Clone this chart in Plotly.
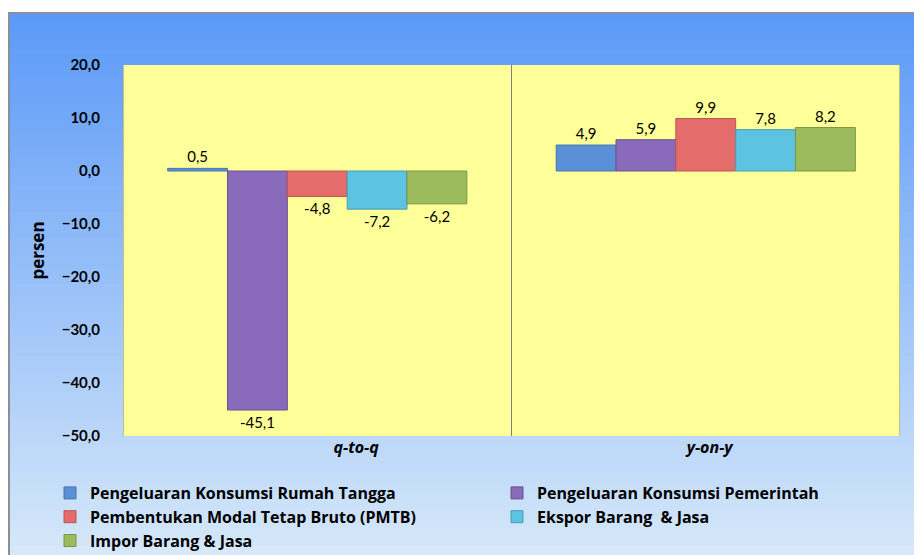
import plotly.graph_objs as go

categories = ["q-to-q", "y-on-y"]
series_names = [
    "Pengeluaran Konsumsi Rumah Tangga",
    "Pengeluaran Konsumsi Pemerintah",
    "Pembentukan Modal Tetap Bruto (PMTB)",
    "Ekspor Barang  & Jasa",
    "Impor Barang & Jasa",
]
rumah_tangga = [0.5, 4.9]
pemerintah = [-45.1, 5.9]
pmtb = [-4.8, 9.9]
ekspor = [-7.2, 7.8]
impor = [-6.2, 8.2]
values = [rumah_tangga, pemerintah, pmtb, ekspor, impor]
colors = ["#5b8fd8", "#8a6bbb", "#e46c6a", "#5cc3e0", "#9cbb5c"]
edges = ["#4a74ad", "#6a5190", "#b85654", "#4a9cb3", "#7a9646"]
legend_of = ["legend", "legend2", "legend", "legend2", "legend"]

# halaman punya margin 8px, jadi semua posisi digeser 8px
W, H = 914, 547
L, R, T, B = 115, 892, 57, 428


def px(x):
    return (x - L) / (R - L)


def py(y):
    return (B - y) / (B - T)


fig = go.Figure()
for i, (name, vals, c, e) in enumerate(zip(series_names, values, colors, edges)):
    fig.add_trace(go.Bar(
        x=[0, 1], y=vals, name=name,
        marker=dict(color=c, line=dict(color=e, width=1)),
        texttemplate="%{y:.1f}", textposition="outside",
        textfont=dict(family="Lato", size=15, color="black"),
        cliponaxis=False, legend=legend_of[i], legendgroup="g%d" % i,
    ))

# latar gradien biru
shapes = []
n = 60
top_c = (92, 154, 248)
bot_c = (214, 232, 250)
y0, y1 = 5, H
for i in range(n):
    t = i / (n - 1)
    col = tuple(int(top_c[k] + (bot_c[k] - top_c[k]) * t) for k in range(3))
    a = y0 + (y1 - y0) * i / n
    b = y0 + (y1 - y0) * (i + 1) / n + 1
    shapes.append(dict(type="rect", xref="paper", yref="paper", layer="below",
                       x0=px(0), x1=px(W), y0=py(a), y1=py(b),
                       fillcolor="rgb(%d,%d,%d)" % col, line=dict(width=0)))
shapes.append(dict(type="rect", xref="paper", yref="paper", layer="below",
                   x0=px(1), x1=px(W + 5), y0=py(5), y1=py(H + 5),
                   fillcolor="rgba(0,0,0,0)", line=dict(color="#8a8f99", width=2)))
shapes.append(dict(type="rect", xref="paper", yref="paper", layer="below",
                   x0=0, x1=1, y0=0, y1=1, fillcolor="#ffff99", line=dict(width=0)))
for xv in [-0.5, 0.5, 1.5]:
    shapes.append(dict(type="line", xref="x", yref="paper", x0=xv, x1=xv, y0=0, y1=1,
                       line=dict(color="#808080", width=1)))

leg_font = dict(family="Open Sans", size=16, color="black", weight="bold")
fig.update_layout(
    width=W, height=H,
    margin=dict(l=L, r=W - R, t=T, b=H - B, autoexpand=False),
    paper_bgcolor="white", plot_bgcolor="rgba(0,0,0,0)",
    barmode="group", bargap=0.23, bargroupgap=0,
    separators=",.",
    font=dict(family="Lato", color="black"),
    shapes=shapes,
    showlegend=True,
    legend=dict(
        x=px(42), y=py(468), xanchor="left", yanchor="top",
        font=leg_font, bgcolor="rgba(0,0,0,0)", itemclick=False,
        tracegroupgap=0, itemwidth=30,
    ),
    legend2=dict(
        x=px(489), y=py(468), xanchor="left", yanchor="top",
        font=leg_font, bgcolor="rgba(0,0,0,0)", itemclick=False,
        tracegroupgap=0, itemwidth=30,
    ),
    xaxis=dict(
        range=[-0.5, 1.5], tickvals=[0.1, 1.01],
        ticktext=["<i>" + c + "</i>" for c in categories],
        tickfont=dict(family="Open Sans", size=16, weight="bold"),
        showgrid=False, zeroline=False, showline=False, ticks="",
    ),
    yaxis=dict(
        range=[-50, 20], dtick=10, tickformat=".1f", showgrid=False,
        zeroline=False, showline=False, ticks="",
        tickfont=dict(size=15, weight="bold"), ticklabelstandoff=22,
        title=dict(text="persen", font=dict(family="Open Sans", size=17, weight="bold"),
                   standoff=12),
    ),
)

fig.write_html("out.html")
